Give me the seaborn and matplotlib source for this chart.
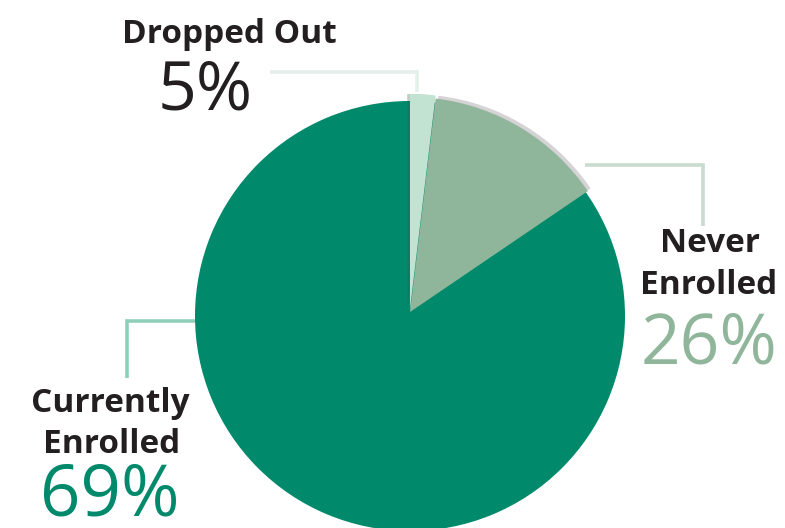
import matplotlib
matplotlib.use("Agg")
import matplotlib.pyplot as plt
import matplotlib.patheffects as pe
from matplotlib.transforms import offset_copy
import seaborn as sns

# ---- data ----
categories = ["Dropped Out", "Never Enrolled", "Currently Enrolled"]
label_lines = [["Dropped Out"], ["Never", "Enrolled"], ["Currently", "Enrolled"]]
percent_labels = [5, 26, 69]
# share of the circle as actually drawn in the graphic
slice_sizes = [1.9, 13.6, 84.5]
colors = ["#c2e2d2", "#8fb69b", "#00896b"]
pct_colors = ["#231f20", "#8fb69b", "#00896b"]

sns.set_theme(style="white")
plt.rcParams["font.family"] = ["Open Sans", "DejaVu Sans"]

W, H = 785, 528
fig = plt.figure(figsize=(W / 100, H / 100), dpi=100)
ax = fig.add_axes([0, 0, 1, 1])

def Y(y):
    return H - y

wedges, _ = ax.pie(slice_sizes, colors=colors, startangle=90, counterclock=False,
                   center=(410, Y(316)), radius=215,
                   wedgeprops=dict(linewidth=0), frame=True)
ax.set_xlim(0, W)
ax.set_ylim(0, H)
ax.set_aspect("equal")
ax.axis("off")

# the big slice continues underneath the two raised slices
wedges[2].set_theta2(wedges[2].theta1 + 359.5)
wedges[2].set_zorder(2)
# raise the two small slices slightly
wedges[0].set_transform(offset_copy(ax.transData, fig=fig, x=0, y=7, units="dots"))
wedges[1].set_transform(offset_copy(ax.transData, fig=fig, x=0, y=4, units="dots"))
wedges[1].set_zorder(3)
wedges[0].set_zorder(4)
wedges[1].set_path_effects([pe.SimplePatchShadow(offset=(2, 2), shadow_rgbFace="#7a6f7a", alpha=0.3),
                            pe.Normal()])
wedges[0].set_path_effects([pe.SimplePatchShadow(offset=(-2, 0), shadow_rgbFace="#2f5f50", alpha=0.3),
                            pe.Normal()])

# leader lines (pixel coordinates)
lines = [
    ([270, 417, 417], [72, 72, 92], "#e4f1ea"),
    ([585, 703, 703], [165, 165, 226], "#c9dccf"),
    ([195, 127, 127], [321, 321, 378], "#8fcfba"),
]
for xs, ys, c in lines:
    ax.plot(xs, [Y(v) for v in ys], color=c, lw=2.6, solid_capstyle="butt",
            solid_joinstyle="miter", zorder=1)

txt = "#231f20"
name_fs = 24
# Dropped Out
ax.text(229, Y(43), label_lines[0][0], ha="center", va="baseline", fontsize=name_fs,
        fontweight="bold", color=txt)
ax.text(205, Y(110), f"{percent_labels[0]}%", ha="center", va="baseline", fontsize=49,
        color=pct_colors[0])
# Never Enrolled
ax.text(710, Y(252), label_lines[1][0], ha="center", va="baseline", fontsize=name_fs,
        fontweight="bold", color=txt)
ax.text(709, Y(294), label_lines[1][1], ha="center", va="baseline", fontsize=name_fs,
        fontweight="bold", color=txt)
ax.text(709, Y(363), f"{percent_labels[1]}%", ha="center", va="baseline", fontsize=50,
        color=pct_colors[1])
# Currently Enrolled
ax.text(110, Y(412), label_lines[2][0], ha="center", va="baseline", fontsize=name_fs,
        fontweight="bold", color=txt)
ax.text(112, Y(453), label_lines[2][1], ha="center", va="baseline", fontsize=name_fs,
        fontweight="bold", color=txt)
ax.text(110, Y(515), f"{percent_labels[2]}%", ha="center", va="baseline", fontsize=51,
        color=pct_colors[2])

fig.savefig("out.png", dpi=100, facecolor="white")
